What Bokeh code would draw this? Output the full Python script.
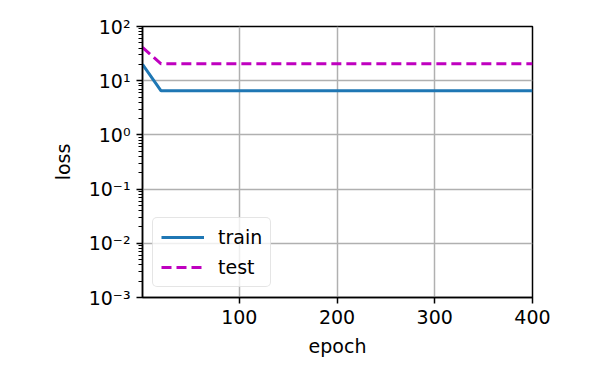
from bokeh.plotting import figure
from bokeh.models import Range1d, FixedTicker, CustomJSTickFormatter, Legend, LegendItem
from bokeh.embed import file_html
from bokeh.resources import INLINE

epochs = [1] + list(range(20, 401, 20))
train_loss = [20.0] + [6.5] * 20
test_loss = [41.0] + [20.5] * 20

x_ticks = [100, 200, 300, 400]
y_ticks = [1e-3, 1e-2, 1e-1, 1e0, 1e1, 1e2]
y_minor = [m * d for d in [1e-3, 1e-2, 1e-1, 1e0, 1e1] for m in range(2, 10)]

FONT = "DejaVu Sans"

p = figure(width=593, height=375, output_backend="svg", toolbar_location=None,
           y_axis_type="log", x_range=Range1d(1, 400), y_range=Range1d(1e-3, 1e2),
           min_border_left=142, min_border_right=61, min_border_top=26, min_border_bottom=78)
p.background_fill_color = "white"
p.border_fill_color = "white"
p.outline_line_color = "black"
p.outline_line_width = 1.5

r1 = p.line(epochs, train_loss, line_color="#1f77b4", line_width=3)
r2 = p.line(epochs, test_loss, line_color="#bf00bf", line_width=3, line_dash="10 5")

p.xaxis.ticker = FixedTicker(ticks=x_ticks)
p.yaxis.ticker = FixedTicker(ticks=y_ticks, minor_ticks=y_minor)
p.yaxis.formatter = CustomJSTickFormatter(code="""
const sup = {'-':'\u207b','0':'\u2070','1':'\u00b9','2':'\u00b2','3':'\u00b3'};
const e = Math.round(Math.log10(tick));
return '10' + String(e).split('').map(c => sup[c]).join('');
""")

for ax in (p.xaxis[0], p.yaxis[0]):
    ax.axis_line_color = "black"
    ax.axis_line_width = 1.5
    ax.major_tick_line_width = 1.5
    ax.major_tick_in = 0
    ax.major_tick_out = 6
    ax.minor_tick_in = 0
    ax.minor_tick_out = 4
    ax.minor_tick_line_width = 1.1
    ax.major_label_text_font = FONT
    ax.major_label_text_font_size = "19px"
    ax.major_label_text_color = "black"
    ax.axis_label_text_font = FONT
    ax.axis_label_text_font_size = "19px"
    ax.axis_label_text_font_style = "normal"
    ax.axis_label_text_color = "black"
    ax.major_label_standoff = 6
p.xaxis.minor_tick_line_color = None
p.xaxis.axis_label = "epoch"
p.yaxis.axis_label = "loss"
p.xaxis.axis_label_standoff = 8
p.yaxis.axis_label_standoff = 12

p.grid.grid_line_color = "#b0b0b0"
p.grid.grid_line_width = 1.5
p.xgrid.ticker = FixedTicker(ticks=x_ticks)
p.ygrid.ticker = FixedTicker(ticks=y_ticks)

legend = Legend(items=[LegendItem(label="train", renderers=[r1]),
                       LegendItem(label="test", renderers=[r2])],
                location=(10, 10))
legend.label_text_font = FONT
legend.label_text_font_size = "19px"
legend.label_text_color = "black"
legend.glyph_width = 43
legend.glyph_height = 20
legend.label_height = 20
legend.label_standoff = 14
legend.spacing = 8
legend.padding = 8
legend.margin = 0
legend.border_line_color = "#cccccc"
legend.border_line_width = 1.5
legend.background_fill_color = "white"
legend.background_fill_alpha = 0.8
if "border_radius" in Legend.properties():
    legend.border_radius = 5
p.add_layout(legend, "center")

with open("out.html", "w", encoding="utf-8") as f:
    f.write(file_html(p, INLINE))
